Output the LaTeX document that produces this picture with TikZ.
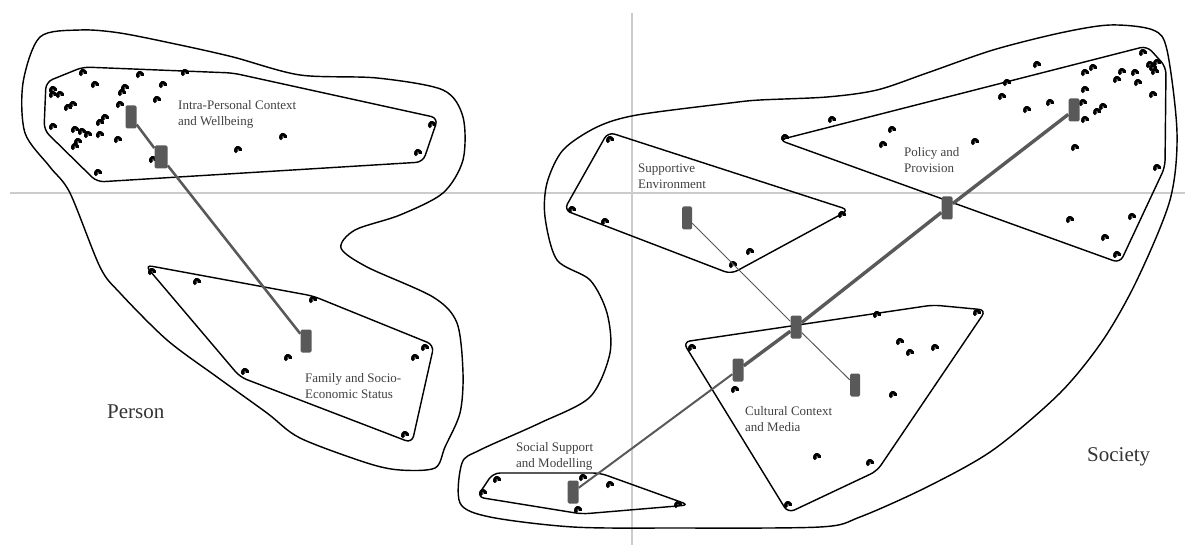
\documentclass[tikz,border=0pt]{standalone}
\usepackage{fontspec}
\setmainfont{Liberation Serif}
\def\cpoint(#1,#2){\draw[line width=1.1mm] (#1,#2) ++(115:2.4) arc (115:380:2.4);}

\begin{document}
\begin{tikzpicture}[x=1pt, y=-1pt,
		hull/.style={line width=0.5mm, rounded corners=7pt},
		region/.style={line width=0.5mm},
		bar/.style={rectangle, rounded corners=1.5pt, fill=black!65, minimum width=11pt, minimum height=23pt, inner sep=0pt},
		label/.style={anchor=base west, align=left, inner sep=0pt, text=black!75, font=\fontsize{13}{16}\selectfont},
		side/.style={anchor=base west, inner sep=0pt, text=black!80, font=\fontsize{21}{24}\selectfont}]
			%%%%% START %%%%%
			\useasboundingbox (0,0) rectangle (1185,545);
			
			\draw[line width=0.5mm, color=black!20] (10,193) -- (1185,193);
			\draw[line width=0.5mm, color=black!20] (632,13) -- (632,545);
			
			% person
			\draw[region] plot[smooth cycle, tension=0.5] coordinates {(40,37) (80,30) (120,33) (180,45) (233,57) (300,75) (377,78) (443,90) (463,117) (463,160) (443,193) (400,215) (355,230) (341,248) (367,267) (433,297) (457,323) (463,373) (460,413) (445,447) (435,468) (400,470) (367,463) (300,438) (267,413) (217,377) (167,340) (120,293) (100,267) (70,193) (50,167) (25,133) (23,83)};
			
			% society
			\draw[region] plot[smooth cycle, tension=0.5] coordinates {(760,100) (827,97) (877,90) (927,73) (993,50) (1060,33) (1110,25) (1153,30) (1167,50) (1177,133) (1170,200) (1137,280) (1103,340) (1060,393) (993,450) (927,487) (860,517) (820,527) (673,528) (573,527) (490,517) (460,503) (462,463) (480,450) (540,423) (590,397) (610,353) (607,313) (590,280) (557,260) (545,217) (547,183) (563,150) (597,127) (637,115) (730,103)};
			
			\draw[hull] (83,67) -- (233,73) -- (438,118) -- (423,162) -- (97,182) -- (44,130) -- (46,82) -- cycle;
			\draw[hull] (145,265) -- (313,296) -- (434,345) -- (412,443) -- (240,377) -- cycle;
			\draw[hull] (608,132) -- (849,210) -- (731,274) -- (564,210) -- cycle;
			\draw[hull] (779,140) -- (1147,46) -- (1166,67) -- (1165,167) -- (1120,263) -- cycle;
			\draw[hull] (683,342) -- (933,305) -- (986,310) -- (877,471) -- (788,513) -- cycle;
			\draw[hull] (493,473) -- (600,473) -- (689,505) -- (582,514) -- (477,497) -- cycle;
			
			\cpoint(83,73) \cpoint(95,85) \cpoint(140,75) \cpoint(185,73) \cpoint(53,90) \cpoint(53,95)
			\cpoint(60,95) \cpoint(73,105) \cpoint(68,108) \cpoint(125,88) \cpoint(122,93) \cpoint(163,85)
			\cpoint(157,100) \cpoint(120,105) \cpoint(105,118) \cpoint(100,123) \cpoint(100,135) \cpoint(53,127)
			\cpoint(75,130) \cpoint(82,132) \cpoint(88,135) \cpoint(78,142) \cpoint(75,147) \cpoint(118,140)
			\cpoint(153,160) \cpoint(160,157) \cpoint(238,150) \cpoint(283,137) \cpoint(432,125) \cpoint(418,153)
			\cpoint(98,173)
			
			\cpoint(152,272) \cpoint(197,282) \cpoint(313,300) \cpoint(288,358) \cpoint(245,372) \cpoint(425,348)
			\cpoint(415,358) \cpoint(405,435)
			
			\cpoint(610,140) \cpoint(572,210) \cpoint(605,222) \cpoint(842,215) \cpoint(750,252) \cpoint(733,265)
			
			\cpoint(1143,53) \cpoint(1150,65) \cpoint(1153,68) \cpoint(1157,63) \cpoint(1155,72) \cpoint(1085,73)
			\cpoint(1093,68) \cpoint(1122,72) \cpoint(1117,80) \cpoint(1135,73) \cpoint(1138,83) \cpoint(1037,65)
			\cpoint(1007,83) \cpoint(1002,97) \cpoint(1085,90) \cpoint(1083,103) \cpoint(1097,112) \cpoint(1103,107)
			\cpoint(1085,120) \cpoint(1027,110) \cpoint(1050,103) \cpoint(1153,95) \cpoint(1075,148) \cpoint(1157,168)
			\cpoint(975,142) \cpoint(892,130) \cpoint(883,145) \cpoint(832,120) \cpoint(785,138) \cpoint(1070,220)
			\cpoint(1132,217) \cpoint(1105,238) \cpoint(1117,255)
			
			\cpoint(692,348) \cpoint(877,315) \cpoint(977,313) \cpoint(900,342) \cpoint(910,353) \cpoint(935,348)
			\cpoint(735,390) \cpoint(893,395) \cpoint(817,457) \cpoint(870,463) \cpoint(788,505)
			
			\cpoint(497,480) \cpoint(483,493) \cpoint(583,478) \cpoint(610,485) \cpoint(578,510) \cpoint(678,505)
			
			% cluster centres
			\node[bar] (intra1) at (131,117) {};
			\node[bar, minimum width=13pt] (intra2) at (161,157) {};
			\node[bar] (family) at (306,341) {};
			\node[bar, minimum width=10pt] (support) at (687,218) {};
			\node[bar] (policy1) at (1074,110) {};
			\node[bar] (policy2) at (947,208) {};
			\node[bar] (culture1) at (796,327) {};
			\node[bar] (culture2) at (738,370) {};
			\node[bar, minimum width=10pt] (culture3) at (855,385) {};
			\node[bar] (social) at (573,492) {};
			
			\draw[line width=0.9mm, color=black!65] (intra1) -- (intra2);
			\draw[line width=0.9mm, color=black!65] (intra2) -- (family);
			\draw[line width=1.2mm, color=black!65] (policy1) -- (policy2);
			\draw[line width=1.2mm, color=black!65] (policy2) -- (culture1);
			\draw[line width=1.2mm, color=black!65] (culture1) -- (culture2);
			\draw[line width=0.7mm, color=black!65] (culture2) -- (social);
			\draw[line width=0.35mm, color=black!65] (support) -- (culture1);
			\draw[line width=0.35mm, color=black!65] (culture1) -- (culture3);
			
			% the base anchor sits on the last line
			\node[label] (intra-label) at (178,126) {Intra-Personal Context\\and Wellbeing};
			\node[label] (family-label) at (305,398) {Family and Socio-\\Economic Status};
			\node[label] (support-label) at (638,189) {Supportive\\Environment};
			\node[label] (policy-label) at (904,173) {Policy and\\Provision};
			\node[label] (culture-label) at (745,431) {Cultural Context\\and Media};
			\node[label] (social-label) at (516,467) {Social Support\\and Modelling};
			
			\node[side] (person) at (107,418) {Person};
			\node[side] (society) at (1087,461) {Society};
			%%%%% END %%%%%
		\end{tikzpicture}
\end{document}
